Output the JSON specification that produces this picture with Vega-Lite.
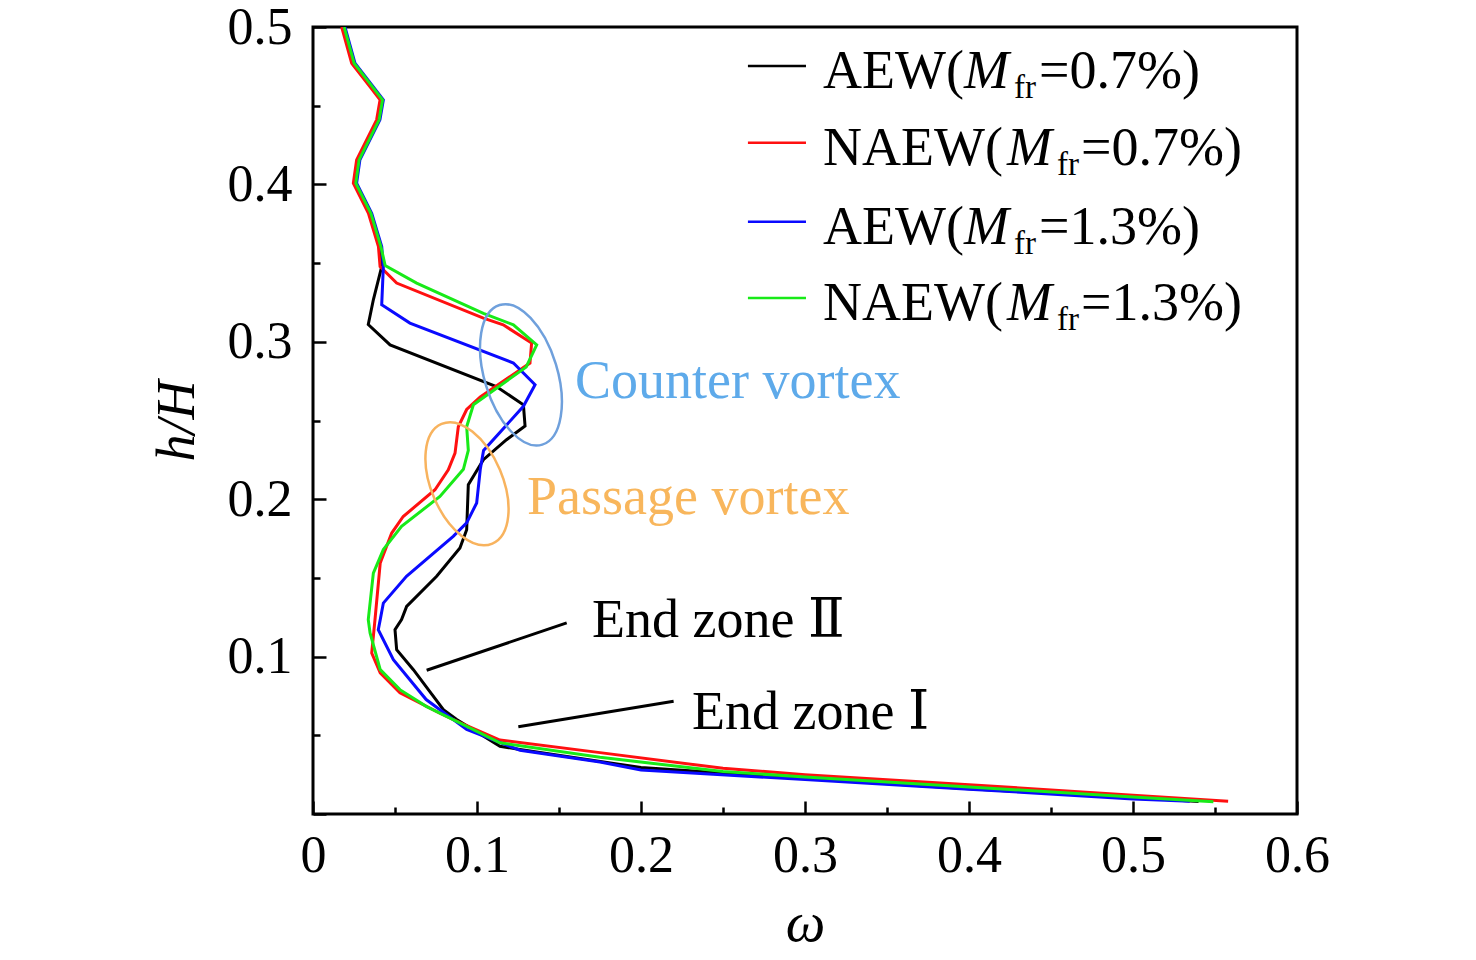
{
  "$schema": "https://vega.github.io/schema/vega-lite/v6.json",
  "width": 984,
  "height": 787,
  "autosize": {"type": "none"},
  "padding": {"left": 313, "top": 27, "right": 179, "bottom": 146},
  "background": "white",
  "datasets": {
    "curves": [
      {"s": "AEW07", "w": 0.0185, "h": 0.5}, {"s": "AEW07", "w": 0.0246, "h": 0.477}, {"s": "AEW07", "w": 0.0358, "h": 0.462},
      {"s": "AEW07", "w": 0.0419, "h": 0.4537}, {"s": "AEW07", "w": 0.0398, "h": 0.441}, {"s": "AEW07", "w": 0.0276, "h": 0.4156},
      {"s": "AEW07", "w": 0.0256, "h": 0.4008}, {"s": "AEW07", "w": 0.0348, "h": 0.3817}, {"s": "AEW07", "w": 0.0409, "h": 0.3605},
      {"s": "AEW07", "w": 0.0419, "h": 0.3478}, {"s": "AEW07", "w": 0.0368, "h": 0.3267}, {"s": "AEW07", "w": 0.0337, "h": 0.311},
      {"s": "AEW07", "w": 0.047, "h": 0.298}, {"s": "AEW07", "w": 0.1118, "h": 0.2716}, {"s": "AEW07", "w": 0.1283, "h": 0.26},
      {"s": "AEW07", "w": 0.1293, "h": 0.2465}, {"s": "AEW07", "w": 0.118, "h": 0.2378}, {"s": "AEW07", "w": 0.1039, "h": 0.2251},
      {"s": "AEW07", "w": 0.0947, "h": 0.2092}, {"s": "AEW07", "w": 0.0937, "h": 0.1806}, {"s": "AEW07", "w": 0.0896, "h": 0.169},
      {"s": "AEW07", "w": 0.0754, "h": 0.151}, {"s": "AEW07", "w": 0.0571, "h": 0.1319}, {"s": "AEW07", "w": 0.054, "h": 0.1235},
      {"s": "AEW07", "w": 0.05, "h": 0.1171}, {"s": "AEW07", "w": 0.051, "h": 0.1044}, {"s": "AEW07", "w": 0.0612, "h": 0.0917},
      {"s": "AEW07", "w": 0.0795, "h": 0.0663}, {"s": "AEW07", "w": 0.0876, "h": 0.06}, {"s": "AEW07", "w": 0.114, "h": 0.043},
      {"s": "AEW07", "w": 0.1262, "h": 0.041}, {"s": "AEW07", "w": 0.2, "h": 0.0295}, {"s": "AEW07", "w": 0.3, "h": 0.0225},
      {"s": "AEW07", "w": 0.4, "h": 0.016}, {"s": "AEW07", "w": 0.5, "h": 0.0105}, {"s": "AEW07", "w": 0.54, "h": 0.008},

      {"s": "NAEW07", "w": 0.0175, "h": 0.5}, {"s": "NAEW07", "w": 0.0236, "h": 0.477}, {"s": "NAEW07", "w": 0.0348, "h": 0.462},
      {"s": "NAEW07", "w": 0.0409, "h": 0.4537}, {"s": "NAEW07", "w": 0.0388, "h": 0.441}, {"s": "NAEW07", "w": 0.0266, "h": 0.4156},
      {"s": "NAEW07", "w": 0.0246, "h": 0.4008}, {"s": "NAEW07", "w": 0.0338, "h": 0.3817}, {"s": "NAEW07", "w": 0.0399, "h": 0.3605},
      {"s": "NAEW07", "w": 0.0409, "h": 0.3478}, {"s": "NAEW07", "w": 0.051, "h": 0.3373}, {"s": "NAEW07", "w": 0.1039, "h": 0.315},
      {"s": "NAEW07", "w": 0.116, "h": 0.3108}, {"s": "NAEW07", "w": 0.1333, "h": 0.2992}, {"s": "NAEW07", "w": 0.1323, "h": 0.2865},
      {"s": "NAEW07", "w": 0.102, "h": 0.265}, {"s": "NAEW07", "w": 0.0937, "h": 0.257}, {"s": "NAEW07", "w": 0.0886, "h": 0.246},
      {"s": "NAEW07", "w": 0.0866, "h": 0.2293}, {"s": "NAEW07", "w": 0.0825, "h": 0.2187}, {"s": "NAEW07", "w": 0.0744, "h": 0.206},
      {"s": "NAEW07", "w": 0.055, "h": 0.189}, {"s": "NAEW07", "w": 0.048, "h": 0.1785}, {"s": "NAEW07", "w": 0.041, "h": 0.1595},
      {"s": "NAEW07", "w": 0.0378, "h": 0.1235}, {"s": "NAEW07", "w": 0.0358, "h": 0.1023}, {"s": "NAEW07", "w": 0.041, "h": 0.0897},
      {"s": "NAEW07", "w": 0.053, "h": 0.077}, {"s": "NAEW07", "w": 0.0774, "h": 0.064}, {"s": "NAEW07", "w": 0.0896, "h": 0.058},
      {"s": "NAEW07", "w": 0.114, "h": 0.047}, {"s": "NAEW07", "w": 0.175, "h": 0.039}, {"s": "NAEW07", "w": 0.25, "h": 0.029},
      {"s": "NAEW07", "w": 0.3, "h": 0.025}, {"s": "NAEW07", "w": 0.4, "h": 0.0186}, {"s": "NAEW07", "w": 0.5, "h": 0.0119},
      {"s": "NAEW07", "w": 0.558, "h": 0.0081},

      {"s": "AEW13", "w": 0.0195, "h": 0.5}, {"s": "AEW13", "w": 0.0256, "h": 0.477}, {"s": "AEW13", "w": 0.0368, "h": 0.462},
      {"s": "AEW13", "w": 0.0429, "h": 0.4537}, {"s": "AEW13", "w": 0.0408, "h": 0.441}, {"s": "AEW13", "w": 0.0286, "h": 0.4156},
      {"s": "AEW13", "w": 0.0266, "h": 0.4008}, {"s": "AEW13", "w": 0.0358, "h": 0.3817}, {"s": "AEW13", "w": 0.0419, "h": 0.3605},
      {"s": "AEW13", "w": 0.0429, "h": 0.3478}, {"s": "AEW13", "w": 0.0419, "h": 0.3235}, {"s": "AEW13", "w": 0.0591, "h": 0.3119},
      {"s": "AEW13", "w": 0.1222, "h": 0.2865}, {"s": "AEW13", "w": 0.1354, "h": 0.2727}, {"s": "AEW13", "w": 0.1283, "h": 0.259},
      {"s": "AEW13", "w": 0.104, "h": 0.231}, {"s": "AEW13", "w": 0.102, "h": 0.219}, {"s": "AEW13", "w": 0.0998, "h": 0.1976},
      {"s": "AEW13", "w": 0.0937, "h": 0.185}, {"s": "AEW13", "w": 0.0855, "h": 0.1764}, {"s": "AEW13", "w": 0.057, "h": 0.151},
      {"s": "AEW13", "w": 0.0429, "h": 0.134}, {"s": "AEW13", "w": 0.041, "h": 0.1235}, {"s": "AEW13", "w": 0.0398, "h": 0.1171},
      {"s": "AEW13", "w": 0.049, "h": 0.0981}, {"s": "AEW13", "w": 0.069, "h": 0.0727}, {"s": "AEW13", "w": 0.0937, "h": 0.0537},
      {"s": "AEW13", "w": 0.1262, "h": 0.0405}, {"s": "AEW13", "w": 0.175, "h": 0.033}, {"s": "AEW13", "w": 0.2, "h": 0.028},
      {"s": "AEW13", "w": 0.3, "h": 0.0219}, {"s": "AEW13", "w": 0.4, "h": 0.0158}, {"s": "AEW13", "w": 0.5, "h": 0.0096},
      {"s": "AEW13", "w": 0.5346, "h": 0.0081},

      {"s": "NAEW13", "w": 0.019, "h": 0.5}, {"s": "NAEW13", "w": 0.0251, "h": 0.477}, {"s": "NAEW13", "w": 0.0363, "h": 0.462},
      {"s": "NAEW13", "w": 0.0424, "h": 0.4537}, {"s": "NAEW13", "w": 0.0403, "h": 0.441}, {"s": "NAEW13", "w": 0.0281, "h": 0.4156},
      {"s": "NAEW13", "w": 0.0261, "h": 0.4008}, {"s": "NAEW13", "w": 0.0353, "h": 0.3817}, {"s": "NAEW13", "w": 0.0414, "h": 0.3605},
      {"s": "NAEW13", "w": 0.044, "h": 0.3485}, {"s": "NAEW13", "w": 0.0632, "h": 0.3373}, {"s": "NAEW13", "w": 0.1039, "h": 0.318},
      {"s": "NAEW13", "w": 0.1222, "h": 0.3108}, {"s": "NAEW13", "w": 0.1364, "h": 0.2981}, {"s": "NAEW13", "w": 0.13, "h": 0.284},
      {"s": "NAEW13", "w": 0.0978, "h": 0.26}, {"s": "NAEW13", "w": 0.0937, "h": 0.246}, {"s": "NAEW13", "w": 0.0947, "h": 0.231},
      {"s": "NAEW13", "w": 0.0917, "h": 0.219}, {"s": "NAEW13", "w": 0.0774, "h": 0.2018}, {"s": "NAEW13", "w": 0.054, "h": 0.1827},
      {"s": "NAEW13", "w": 0.0429, "h": 0.168}, {"s": "NAEW13", "w": 0.0368, "h": 0.153}, {"s": "NAEW13", "w": 0.0337, "h": 0.1235},
      {"s": "NAEW13", "w": 0.0348, "h": 0.115}, {"s": "NAEW13", "w": 0.041, "h": 0.0917}, {"s": "NAEW13", "w": 0.053, "h": 0.079},
      {"s": "NAEW13", "w": 0.069, "h": 0.0684}, {"s": "NAEW13", "w": 0.0876, "h": 0.0589}, {"s": "NAEW13", "w": 0.114, "h": 0.0452},
      {"s": "NAEW13", "w": 0.175, "h": 0.036}, {"s": "NAEW13", "w": 0.25, "h": 0.027}, {"s": "NAEW13", "w": 0.3, "h": 0.0235},
      {"s": "NAEW13", "w": 0.4, "h": 0.0172}, {"s": "NAEW13", "w": 0.5, "h": 0.0108}, {"s": "NAEW13", "w": 0.549, "h": 0.0078}
    ],
    "legend": [
      {"s": "AEW07", "pre": "AEW(", "post": "=0.7%)", "h": 0.4752},
      {"s": "NAEW07", "pre": "NAEW(", "post": "=0.7%)", "h": 0.4264},
      {"s": "AEW13", "pre": "AEW(", "post": "=1.3%)", "h": 0.3762},
      {"s": "NAEW13", "pre": "NAEW(", "post": "=1.3%)", "h": 0.3279}
    ],
    "vortices": [
      {"v": "counter", "w": 0.1268, "h": 0.279},
      {"v": "passage", "w": 0.0939, "h": 0.2098}
    ],
    "notes": [
      {"t": "Counter vortex", "w": 0.1598, "h": 0.2644},
      {"t": "Passage vortex", "w": 0.1305, "h": 0.1908},
      {"t": "End zone Ⅱ", "w": 0.1701, "h": 0.1127},
      {"t": "End zone Ⅰ", "w": 0.2311, "h": 0.0537}
    ],
    "leaders": [
      {"w": 0.0693, "h": 0.0913, "w2": 0.1547, "h2": 0.1214},
      {"w": 0.1252, "h": 0.0554, "w2": 0.2199, "h2": 0.0716}
    ]
  },
  "layer": [
    {
      "data": {"name": "curves"},
      "mark": {"type": "line", "strokeWidth": 3, "clip": true},
      "encoding": {
        "x": {
          "field": "w", "type": "quantitative", "title": "ω",
          "scale": {"domain": [0, 0.6], "nice": false},
          "axis": {
            "values": [0, 0.05, 0.1, 0.15, 0.2, 0.25, 0.3, 0.35, 0.4, 0.45, 0.5, 0.55, 0.6],
            "labelExpr": "round(datum.value*100) % 10 != 0 ? '' : (datum.value == 0 ? '0' : format(datum.value, '.1f'))",
            "tickSize": {"condition": {"test": "round(datum.value*100) % 10 == 0", "value": -13}, "value": -7},
            "labelPadding": 29,
            "titlePadding": 9,
            "titleFontSize": 56
          }
        },
        "y": {
          "field": "h", "type": "quantitative", "title": "h/H",
          "scale": {"domain": [0, 0.5], "nice": false},
          "axis": {
            "values": [0, 0.05, 0.1, 0.15, 0.2, 0.25, 0.3, 0.35, 0.4, 0.45, 0.5],
            "labelExpr": "round(datum.value*100) % 10 != 0 || datum.value == 0 ? '' : format(datum.value, '.1f')",
            "tickSize": {"condition": {"test": "round(datum.value*100) % 10 == 0", "value": -13}, "value": -7},
            "labelPadding": 34,
            "titlePadding": 23
          }
        },
        "order": {"field": "h", "sort": "descending"},
        "color": {
          "field": "s", "type": "nominal", "legend": null,
          "scale": {"domain": ["AEW07", "NAEW07", "AEW13", "NAEW13"], "range": ["#000000", "#ff1010", "#0a0aff", "#18ea18"]}
        }
      }
    },
    {
      "data": {"name": "legend"},
      "mark": {"type": "rule", "strokeWidth": 2.5},
      "encoding": {
        "x": {"datum": 0.2652, "type": "quantitative"},
        "x2": {"datum": 0.3006},
        "y": {"field": "h", "type": "quantitative"},
        "color": {"field": "s", "type": "nominal", "legend": null}
      }
    },
    {
      "data": {"name": "legend"},
      "mark": {"type": "text", "align": "left", "baseline": "alphabetic", "dy": 22, "font": "Liberation Serif", "fontSize": 54, "color": "black"},
      "encoding": {
        "x": {"datum": 0.311, "type": "quantitative"},
        "y": {"field": "h", "type": "quantitative"},
        "text": {"field": "pre"}
      }
    },
    {
      "data": {"name": "legend"},
      "mark": {"type": "text", "align": "left", "baseline": "alphabetic", "dy": 22, "dx": {"expr": "datum.pre == 'AEW(' ? 141 : 184"}, "font": "Liberation Serif", "fontStyle": "italic", "fontSize": 54, "color": "black", "text": "M"},
      "encoding": {
        "x": {"datum": 0.311, "type": "quantitative"},
        "y": {"field": "h", "type": "quantitative"}
      }
    },
    {
      "data": {"name": "legend"},
      "mark": {"type": "text", "align": "left", "baseline": "alphabetic", "dy": 32, "dx": {"expr": "datum.pre == 'AEW(' ? 191 : 234"}, "font": "Liberation Serif", "fontSize": 33, "color": "black", "text": "fr"},
      "encoding": {
        "x": {"datum": 0.311, "type": "quantitative"},
        "y": {"field": "h", "type": "quantitative"}
      }
    },
    {
      "data": {"name": "legend"},
      "mark": {"type": "text", "align": "left", "baseline": "alphabetic", "dy": 22, "dx": {"expr": "datum.pre == 'AEW(' ? 216 : 258"}, "font": "Liberation Serif", "fontSize": 54, "color": "black"},
      "encoding": {
        "x": {"datum": 0.311, "type": "quantitative"},
        "y": {"field": "h", "type": "quantitative"},
        "text": {"field": "post"}
      }
    },
    {
      "data": {"name": "vortices"},
      "transform": [{"filter": "datum.v == 'counter'"}],
      "mark": {
        "type": "point", "filled": false, "stroke": "#6fa0dc", "strokeWidth": 2.5, "opacity": 1,
        "shape": "M0,-1C0.276,-1,0.5,-0.552,0.5,0C0.5,0.552,0.276,1,0,1C-0.276,1,-0.5,0.552,-0.5,0C-0.5,-0.552,-0.276,-1,0,-1Z",
        "size": 21316, "angle": 343
      },
      "encoding": {
        "x": {"field": "w", "type": "quantitative"},
        "y": {"field": "h", "type": "quantitative"}
      }
    },
    {
      "data": {"name": "vortices"},
      "transform": [{"filter": "datum.v == 'passage'"}],
      "mark": {
        "type": "point", "filled": false, "stroke": "#f8b35e", "strokeWidth": 2.5, "opacity": 1,
        "shape": "M0,-1C0.304,-1,0.55,-0.552,0.55,0C0.55,0.552,0.304,1,0,1C-0.304,1,-0.55,0.552,-0.55,0C-0.55,-0.552,-0.304,-1,0,-1Z",
        "size": 16900, "angle": 337
      },
      "encoding": {
        "x": {"field": "w", "type": "quantitative"},
        "y": {"field": "h", "type": "quantitative"}
      }
    },
    {
      "data": {"name": "leaders"},
      "mark": {"type": "rule", "strokeWidth": 3, "color": "black"},
      "encoding": {
        "x": {"field": "w", "type": "quantitative"},
        "y": {"field": "h", "type": "quantitative"},
        "x2": {"field": "w2"},
        "y2": {"field": "h2"}
      }
    },
    {
      "data": {"name": "notes"},
      "mark": {
        "type": "text", "align": "left", "baseline": "alphabetic", "fontSize": 54,
        "font": "Liberation Serif, DejaVu Serif, Noto Sans CJK SC",
        "color": {"expr": "datum.t == 'Counter vortex' ? '#5eaaea' : datum.t == 'Passage vortex' ? '#f8b65c' : 'black'"}
      },
      "encoding": {
        "x": {"field": "w", "type": "quantitative"},
        "y": {"field": "h", "type": "quantitative"},
        "text": {"field": "t"}
      }
    }
  ],
  "config": {
    "view": {"stroke": "black", "strokeWidth": 3},
    "axis": {
      "domain": false,
      "grid": false,
      "ticks": true,
      "tickColor": "black",
      "tickWidth": 2.5,
      "labelFont": "Liberation Serif",
      "labelFontSize": 52,
      "labelColor": "black",
      "labelFlush": false,
      "labelOverlap": false,
      "labelBound": false,
      "titleFont": "Liberation Serif",
      "titleFontSize": 54,
      "titleFontStyle": "italic",
      "titleFontWeight": "normal",
      "titleColor": "black"
    }
  }
}
